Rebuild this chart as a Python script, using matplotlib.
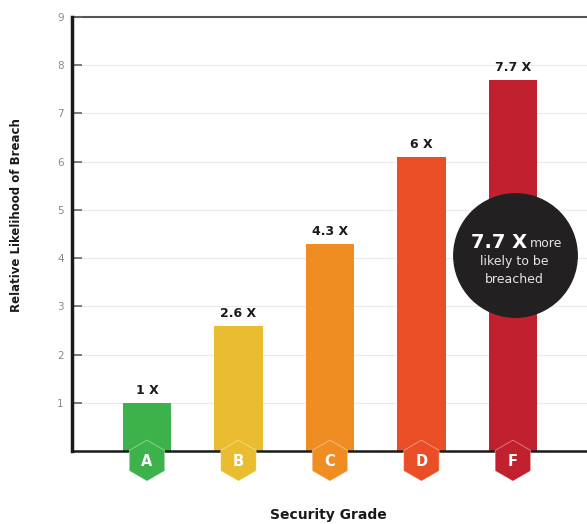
import matplotlib
matplotlib.use("Agg")
import matplotlib.pyplot as plt

grades = ["A", "B", "C", "D", "F"]
values = [1.0, 2.6, 4.3, 6.1, 7.7]
value_labels = ["1 X", "2.6 X", "4.3 X", "6 X", "7.7 X"]
colors = ["#3db24b", "#e9bd2f", "#ef8d23", "#ea4e27", "#c1202e"]
yticks = [1, 2, 3, 4, 5, 6, 7, 8, 9]

fig = plt.figure(figsize=(5.87, 5.24), dpi=100)
ax = fig.add_axes([72/587, 73/524, 1 - 72/587, (451-17)/524])
x = list(range(len(grades)))
ax.set_xlim(-0.82, 4.81)
ax.set_ylim(0, 9)

for yv in yticks[:-1]:
    ax.axhline(yv, color="#ebebeb", lw=0.8, zorder=0)
ax.axhline(9, color="#555555", lw=1.5, zorder=1, clip_on=False)

ax.bar(x, values, width=0.53, color=colors, zorder=2)
for xi, v, lab in zip(x, values, value_labels):
    ax.text(xi, v + 0.12, lab, ha="center", va="bottom", fontsize=9,
            fontweight="bold", color="#1a1a1a", zorder=5)

for s in ["top", "right"]:
    ax.spines[s].set_visible(False)
ax.spines["left"].set_linewidth(2.5)
ax.spines["left"].set_color("#1a1a1a")
ax.spines["bottom"].set_linewidth(1.8)
ax.spines["bottom"].set_color("#1a1a1a")
ax.spines["bottom"].set_zorder(3)

ax.set_yticks(yticks)
ax.set_yticklabels([str(t) for t in yticks], fontsize=7.5, color="#8a8a8a")
ax.tick_params(axis="y", direction="in", length=7, width=1.2, color="#666666", pad=6)
ax.set_xticks([])

# hexagon badges
ax.scatter(x, [-0.2]*len(x), marker="h", s=870, c=colors, zorder=6, clip_on=False,
           edgecolors=(1, 1, 1, 0.45), linewidths=0.6)
for xi, g in zip(x, grades):
    ax.text(xi, -0.22, g, ha="center", va="center", fontsize=10.5, fontweight="bold",
            color="white", zorder=7, clip_on=False)

# callout circle
ax.scatter([4.02], [4.07], marker="o", s=7900, color="#232021", zorder=8, clip_on=False)
ax.text(4.15, 4.32, "7.7 X", ha="right", va="center", fontsize=14, fontweight="bold",
        color="white", zorder=9)
ax.text(4.19, 4.30, "more", ha="left", va="center", fontsize=9,
        color="#e6e6e6", zorder=9)
ax.text(4.02, 3.92, "likely to be", ha="center", va="center", fontsize=9,
        color="#e6e6e6", zorder=9)
ax.text(4.02, 3.55, "breached", ha="center", va="center", fontsize=9,
        color="#e6e6e6", zorder=9)

fig.text(17/587, 1 - 215/524, "Relative Likelihood of Breach", rotation=90,
         ha="center", va="center", fontsize=8.5, fontweight="bold", color="#1a1a1a")
fig.text(328/587, 1 - 515/524, "Security Grade", ha="center", va="center",
         fontsize=10, fontweight="bold", color="#1a1a1a")

fig.savefig("out.png", dpi=100)
